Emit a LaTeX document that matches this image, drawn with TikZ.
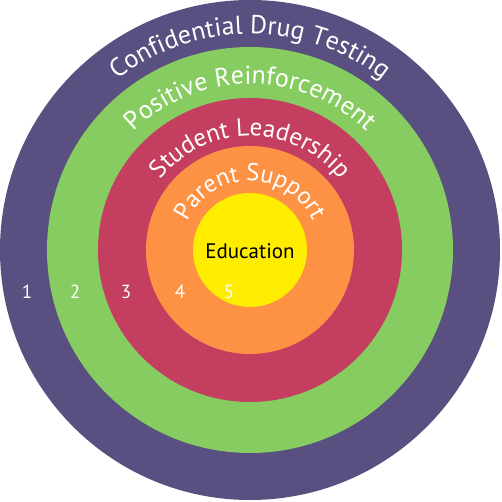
\documentclass[tikz,border=0pt]{standalone}
\usepackage{fontspec}
\setmainfont{PT Sans}
\usetikzlibrary{decorations.text}
\definecolor{ringA}{HTML}{594F80}
\definecolor{ringB}{HTML}{86CC60}
\definecolor{ringC}{HTML}{C43E60}
\definecolor{ringD}{HTML}{FD9245}
\definecolor{ringE}{HTML}{FFED00}
\tikzset{
  ring/.style={circle, inner sep=0pt, minimum size=#1},
  numlbl/.style={text=white, font=\fontsize{19}{19}\selectfont, anchor=center},
}
\newcommand{\arctext}[3]{%
  \path[decorate, decoration={text along path, text align=center,
    text={|\fontsize{#2}{#2}\selectfont\color{white}|#3}}]
    (180:#1) arc[start angle=180, end angle=0, radius=#1];}
\begin{document}
\begin{tikzpicture}[x=1pt,y=1pt]
\useasboundingbox (-250,-252) rectangle (251,250);
\node[ring=500pt, fill=ringA] (r1) at (0,0) {};
\node[ring=406pt, fill=ringB] (r2) at (0,0) {};
\node[ring=304pt, fill=ringC] (r3) at (0,0) {};
\node[ring=208pt, fill=ringD] (r4) at (0,0) {};
\node[ring=114pt, fill=ringE] (r5) at (0,0) {};
\node[font=\fontsize{21}{21}\selectfont] (edu) at (0,-1) {Education};
\arctext{216}{26}{Confidential Drug Testing}
\arctext{166}{26}{Positive Reinforcement}
\arctext{114}{25}{Student Leadership}
\arctext{69}{24.5}{Parent Support}
\node[numlbl] (n1) at (-223,-42) {1};
\node[numlbl] (n2) at (-175,-42) {2};
\node[numlbl] (n3) at (-124,-42) {3};
\node[numlbl] (n4) at (-70,-42) {4};
\node[numlbl] (n5) at (-21,-42) {5};
\end{tikzpicture}
\end{document}
